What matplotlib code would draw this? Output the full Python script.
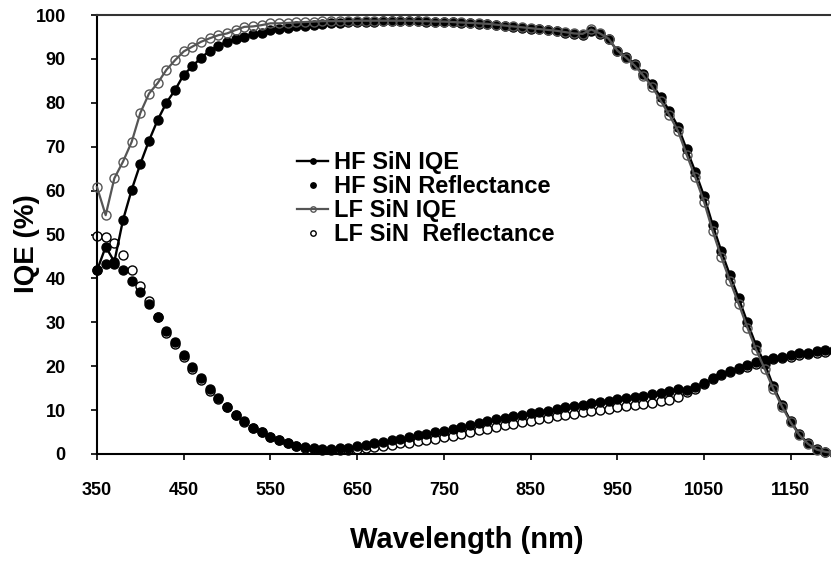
import matplotlib
matplotlib.use("Agg")
import matplotlib.pyplot as plt
from matplotlib import font_manager

plt.rcParams['font.family'] = ['Liberation Sans', 'DejaVu Sans']
plt.rcParams['font.weight'] = 'bold'

wavelength = list(range(350, 1201, 10))

hf_iqe = [41.8, 47.2, 43.8, 53.3, 60.2, 66.1, 71.4, 76.1, 80.0, 82.9,
	86.4, 88.3, 90.3, 91.8, 93.0, 93.9, 94.5, 95.1, 95.6, 96.0,
	96.5, 96.9, 97.1, 97.4, 97.6, 97.8, 98.0, 98.1, 98.2, 98.3,
	98.4, 98.5, 98.5, 98.6, 98.6, 98.6, 98.6, 98.6, 98.5, 98.5,
	98.4, 98.3, 98.2, 98.1, 98.0, 97.9, 97.7, 97.5, 97.3, 97.1,
	96.9, 96.7, 96.5, 96.3, 96.0, 95.7, 95.5, 96.3, 95.7, 94.5,
	91.9, 90.5, 88.8, 86.6, 84.3, 81.3, 78.2, 74.6, 69.4, 64.3,
	58.8, 52.2, 46.2, 40.7, 35.5, 30.0, 24.8, 20.6, 15.4, 11.2,
	7.5, 4.5, 2.4, 1.1, 0.5, 0.2]

lf_iqe = [60.8, 54.4, 62.8, 66.6, 71.1, 77.7, 82.1, 84.5, 87.5, 89.7,
	91.7, 92.8, 93.9, 94.7, 95.4, 95.8, 96.6, 97.3, 97.4, 97.7,
	98.1, 98.1, 98.2, 98.3, 98.4, 98.5, 98.6, 98.6, 98.6, 98.6,
	98.7, 98.7, 98.7, 98.7, 98.7, 98.7, 98.7, 98.6, 98.6, 98.5,
	98.5, 98.4, 98.3, 98.2, 98.1, 98.0, 97.8, 97.6, 97.4, 97.2,
	97.0, 96.8, 96.6, 96.4, 96.1, 95.8, 95.7, 96.7, 95.8, 94.6,
	91.9, 90.3, 88.5, 86.2, 83.7, 80.5, 77.2, 73.6, 68.2, 63.0,
	57.5, 50.8, 44.8, 39.4, 34.2, 28.8, 23.8, 19.4, 14.8, 10.8,
	7.2, 4.3, 2.3, 1.0, 0.5, 0.2]

hf_refl = [41.9, 43.2, 43.2, 42.0, 39.5, 37.0, 34.2, 31.2, 28.1, 25.5,
	22.6, 19.9, 17.2, 14.8, 12.7, 10.7, 8.9, 7.5, 6.0, 5.0,
	3.9, 3.2, 2.5, 1.9, 1.6, 1.3, 1.2, 1.2, 1.3, 1.4,
	1.8, 2.1, 2.4, 2.7, 3.1, 3.4, 3.8, 4.3, 4.6, 5.0,
	5.3, 5.8, 6.2, 6.7, 7.1, 7.5, 7.9, 8.3, 8.6, 8.9,
	9.3, 9.6, 9.9, 10.3, 10.6, 10.9, 11.2, 11.6, 11.9, 12.1,
	12.5, 12.7, 13.0, 13.2, 13.6, 13.8, 14.3, 14.7, 14.5, 15.2,
	16.2, 17.3, 18.2, 18.9, 19.6, 20.2, 20.9, 21.4, 21.9, 22.2,
	22.5, 22.9, 23.1, 23.4, 23.6, 23.7]

lf_refl = [49.7, 49.4, 48.0, 45.4, 41.8, 38.2, 34.8, 31.2, 27.6, 25.0,
	22.1, 19.4, 16.8, 14.4, 12.5, 10.6, 8.8, 7.4, 6.0, 5.0,
	3.9, 3.1, 2.4, 1.8, 1.4, 1.1, 1.0, 0.9, 0.9, 1.0,
	1.2, 1.4, 1.6, 1.8, 2.1, 2.4, 2.6, 3.0, 3.2, 3.5,
	3.8, 4.2, 4.6, 5.0, 5.4, 5.8, 6.2, 6.6, 6.9, 7.2,
	7.6, 7.9, 8.2, 8.6, 8.9, 9.2, 9.5, 9.8, 10.1, 10.3,
	10.7, 10.9, 11.2, 11.4, 11.7, 12.0, 12.4, 12.9, 14.1, 14.9,
	15.9, 17.0, 17.9, 18.6, 19.3, 19.9, 20.6, 21.1, 21.6, 21.9,
	22.2, 22.6, 22.8, 23.1, 23.3, 23.4]

x_ticks = list(range(350, 1151, 100))
y_ticks = list(range(0, 101, 10))

# narrow face for the tick numbers when it is around
installed = {f.name for f in font_manager.fontManager.ttflist}
if 'Liberation Sans Narrow' in installed:
	tick_font = {'family': 'Liberation Sans Narrow', 'size': 14.5}
else:
	tick_font = {'family': 'Liberation Sans', 'size': 13}


def plot_curves(ax):
	ax.plot(wavelength, hf_iqe, color='black', lw=1.7, marker='o', ms=6.5,
		mfc='black', mec='black', label='HF SiN IQE', zorder=3, clip_on=False)
	ax.plot(wavelength, lf_refl, ls='none', marker='o', ms=6.5,
		mfc='white', mec='black', mew=1.0, zorder=2, clip_on=False)
	ax.plot(wavelength, hf_refl, ls='none', marker='o', ms=6.5,
		mfc='black', mec='black', label='HF SiN Reflectance', zorder=4, clip_on=False)
	ax.plot(wavelength, lf_iqe, color='#555555', lw=1.6, marker='o', ms=6.5,
		mfc='none', mec='#555555', mew=1.0, label='LF SiN IQE', zorder=5, clip_on=False)
	# dummy handle so the open-circle series comes last in the legend
	ax.plot([], [], ls='none', marker='o', ms=6.5, mfc='white', mec='black',
		mew=1.0, label='LF SiN  Reflectance')


def style_axes(ax):
	ax.set_xlim(350, 1196.5)
	ax.set_ylim(0, 100)
	ax.set_xticks(x_ticks)
	ax.set_yticks(y_ticks)
	ax.tick_params(direction='out', length=4.5, width=1.2)
	ax.tick_params(axis='x', pad=16)
	ax.tick_params(axis='y', pad=18)
	for lab in ax.get_xticklabels() + ax.get_yticklabels():
		lab.set_fontweight('bold')
		lab.set_family(tick_font['family'])
		lab.set_fontsize(tick_font['size'])
	ax.spines['right'].set_visible(False)
	ax.spines['left'].set_linewidth(1.5)
	ax.spines['bottom'].set_linewidth(1.5)
	ax.spines['top'].set_linewidth(1.5)
	ax.spines['top'].set_color('#333333')
	ax.set_xlabel('Wavelength (nm)', fontsize=21, fontweight='bold')
	ax.set_ylabel('IQE (%)', fontsize=20, fontweight='bold')
	ax.xaxis.set_label_coords(0.504, -0.165)
	ax.yaxis.set_label_coords(-0.078, 0.48)


def main():
	fig = plt.figure(figsize=(8.31, 5.70), dpi=100)
	ax = fig.add_axes([97 / 831, 116 / 570, 734 / 831, 439 / 570])
	plot_curves(ax)
	style_axes(ax)
	ax.legend(loc='upper left', bbox_to_anchor=(0.273, 0.69), frameon=False,
		borderpad=0, borderaxespad=0, handlelength=1.3, handletextpad=0.25,
		labelspacing=0.04, markerscale=0.6, prop={'size': 17, 'weight': 'bold'})
	fig.savefig('out.png', dpi=100)


if __name__ == '__main__':
	main()
